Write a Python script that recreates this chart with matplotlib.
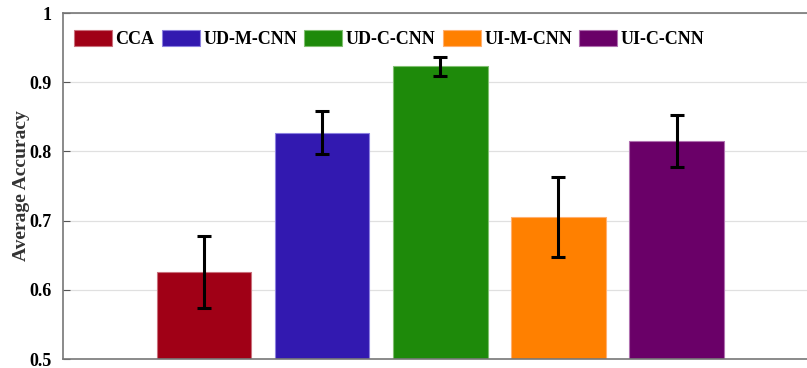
import numpy as np
import matplotlib
matplotlib.use('Agg')
import matplotlib.pyplot as plt
from matplotlib.patches import Patch

# Средняя точность по методам и разброс (стандартное отклонение)
methods = ['CCA', 'UD-M-CNN', 'UD-C-CNN', 'UI-M-CNN', 'UI-C-CNN']
accuracy = [0.626, 0.827, 0.923, 0.705, 0.815]
errors = [0.052, 0.031, 0.014, 0.058, 0.037]
colors = ['#A00016', '#3219B0', '#1E8A0A', '#FF8000', '#6A0068']
edge_colors = ['#C9707C', '#8C80E0', '#80C070', '#FFB070', '#B070B0']
y_ticks = [0.5, 0.6, 0.7, 0.8, 0.9, 1.0]
y_tick_labels = ['0.5', '0.6', '0.7', '0.8', '0.9', '1']

plt.rcParams['font.family'] = ['Liberation Serif', 'DejaVu Serif']
plt.rcParams['font.weight'] = 'bold'

fig = plt.figure(figsize=(8.07, 3.68), dpi=100)
ax = fig.add_axes([63 / 807, 1 - 359 / 368, 760 / 807, 346 / 368])

x = np.arange(1, len(methods) + 1)
ax.bar(x, accuracy, width=0.8, color=colors, edgecolor=edge_colors,
       linewidth=0.8, zorder=2)
ax.errorbar(x, accuracy, yerr=errors, fmt='none', ecolor='black',
            elinewidth=2.2, capsize=5, capthick=2.2, zorder=3)

ax.set_xlim(-0.195, 6.24)
ax.set_ylim(0.5, 1.0)
ax.set_yticks(y_ticks)
ax.set_yticklabels(y_tick_labels, fontsize=13, fontweight='bold')
ax.set_xticks([])
ax.tick_params(axis='y', direction='in', length=5, color='#555555', pad=8)
ax.yaxis.grid(True, color='#E0E0E0', linewidth=0.9, zorder=0)
ax.set_axisbelow(True)
for side in ['left', 'bottom', 'top']:
    ax.spines[side].set_color('#777777')
    ax.spines[side].set_linewidth(1.2)
ax.spines['right'].set_visible(False)
ax.set_ylabel('Average Accuracy', fontsize=14, fontweight='bold',
              color='#333333', labelpad=0)

handles = [Patch(facecolor=c, edgecolor=e, linewidth=0.8)
           for c, e in zip(colors, edge_colors)]
ax.legend(handles, methods, loc='upper left', ncol=5, frameon=False,
          bbox_to_anchor=(0.005, 0.973), handlelength=2.1, handleheight=1.0,
          handletextpad=0.2, columnspacing=0.4, borderaxespad=0.0,
          prop={'family': 'Liberation Serif', 'weight': 'bold', 'size': 13})

plt.savefig('out.png', dpi=100)
